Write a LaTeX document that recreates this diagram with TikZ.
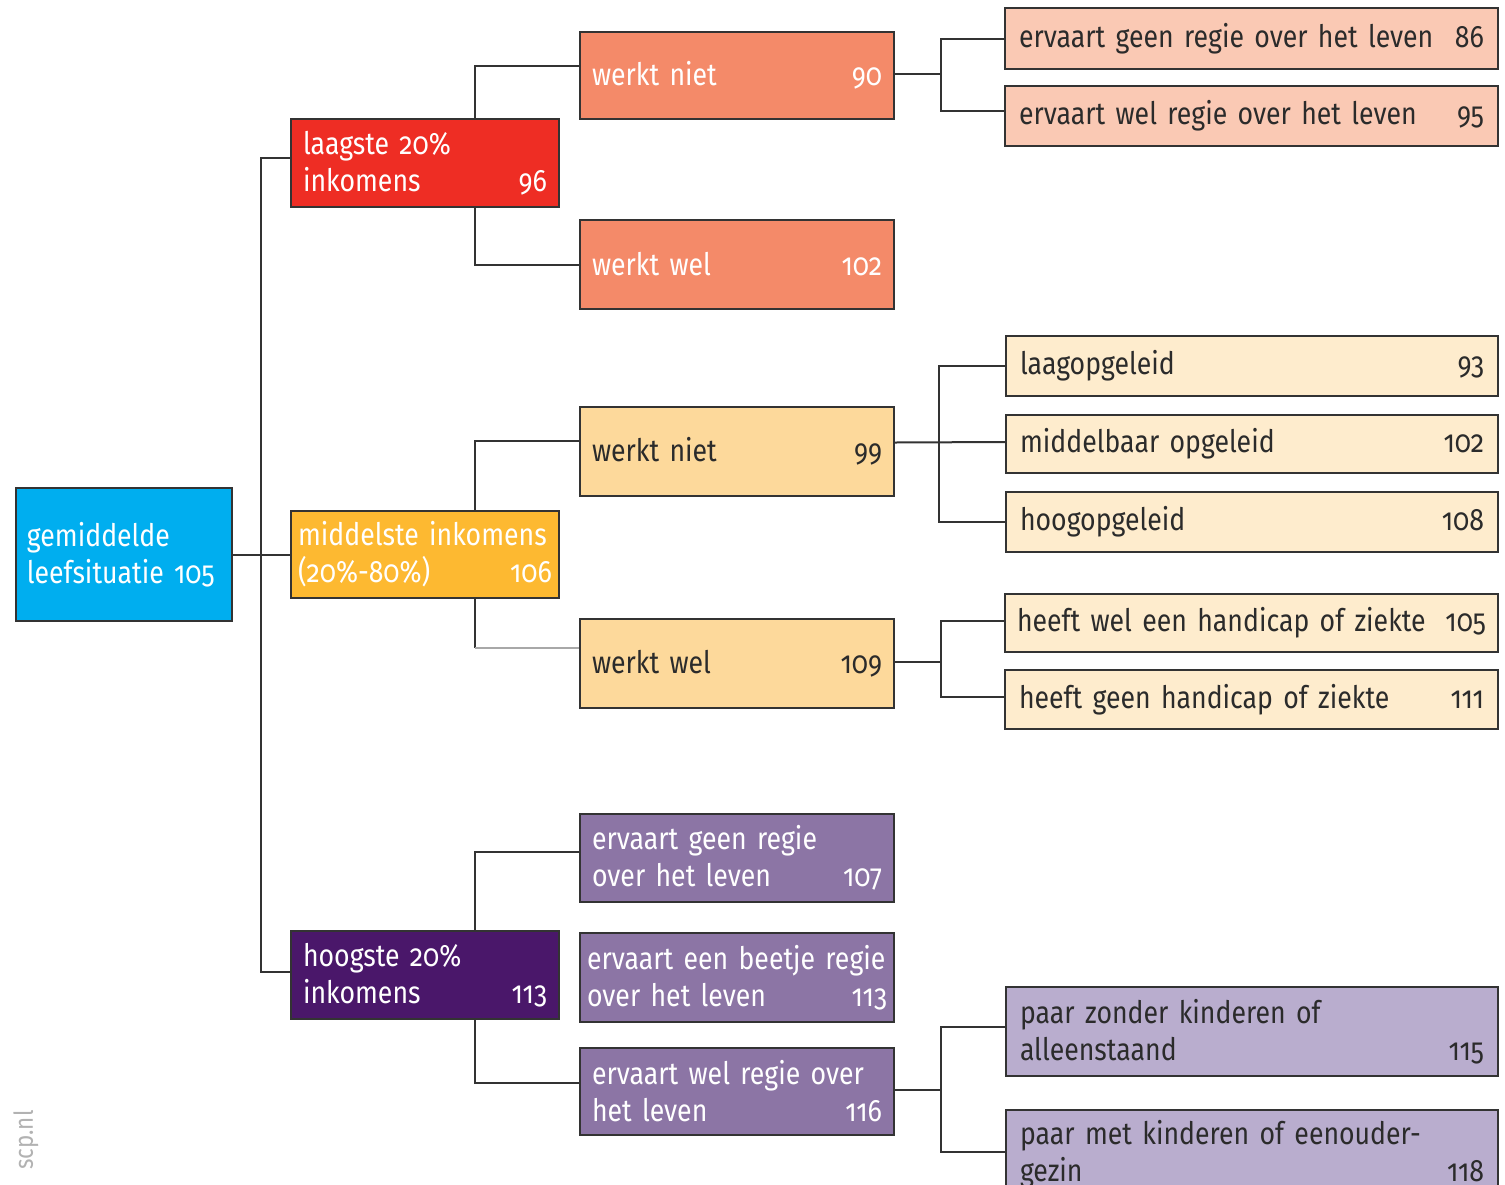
\documentclass[tikz,border=0pt]{standalone}
\usepackage{fontspec}
\setmainfont{Fira Sans}[Numbers=OldStyle, FakeStretch=0.86]
\usetikzlibrary{calc}
\definecolor{lc}{HTML}{333333}
\definecolor{cCyan}{HTML}{00AEEF}
\definecolor{cRed}{HTML}{EE2D24}
\definecolor{cOrange}{HTML}{FDB931}
\definecolor{cDPurple}{HTML}{4A176A}
\definecolor{cSalmon}{HTML}{F48A69}
\definecolor{cLSalmon}{HTML}{FAC9B4}
\definecolor{cLOrange}{HTML}{FDD99B}
\definecolor{cPale}{HTML}{FEECCD}
\definecolor{cPurple}{HTML}{8C75A5}
\definecolor{cLav}{HTML}{B9ADCE}
\definecolor{cDark}{HTML}{2B2B2B}
\definecolor{cGreyLine}{HTML}{A8A8A8}
\begin{document}
\begin{tikzpicture}[x=1pt,y=-1pt,
  bx/.style={draw=lc, line width=2pt, anchor=north west, inner sep=0pt, align=left,
    font=\fontsize{31}{37}\selectfont},
  wt/.style={text=white},
  dk/.style={text=cDark},
  conn/.style={draw=lc, line width=2pt}]
\useasboundingbox (0,0) rectangle (1505,1184);
\clip (0,0) rectangle (1505,1184);
\fill[white] (0,0) rectangle (1505,1184);

\coordinate (t1) at (261,0);
\coordinate (t2) at (475,0);
\coordinate (t3) at (941,0);
\coordinate (t3b) at (939,0);

% level 0
\node[bx, wt, fill=cCyan, minimum width=216pt, minimum height=133pt, text width=194pt] (gem) at (15,487) {gemiddelde\\leefsituatie 105};
% level 1
\node[bx, wt, fill=cRed, minimum width=268pt, minimum height=88pt, text width=244pt] (laag) at (290,118) {laagste 20\%\\inkomens\hfill 96};
\node[bx, wt, fill=cOrange, minimum width=268pt, minimum height=87pt, text width=254pt] (mid) at (290,510) {middelste inkomens\\(20\%-80\%)\hfill 106};
\node[bx, wt, fill=cDPurple, minimum width=268pt, minimum height=88pt, text width=244pt] (hoog) at (290,930) {hoogste 20\%\\inkomens\hfill 113};
% level 2
\node[bx, wt, fill=cSalmon, minimum width=314pt, minimum height=87pt, text width=290pt] (wn90) at (579,31) {werkt niet\hfill 90};
\node[bx, wt, fill=cSalmon, minimum width=314pt, minimum height=89pt, text width=290pt] (ww102) at (579,219) {werkt wel\hfill 102};
\node[bx, dk, fill=cLOrange, minimum width=314pt, minimum height=89pt, text width=290pt] (wn99) at (579,406) {werkt niet\hfill 99};
\node[bx, dk, fill=cLOrange, minimum width=314pt, minimum height=89pt, text width=290pt] (ww109) at (579,618) {werkt wel\hfill 109};
\node[bx, wt, fill=cPurple, minimum width=314pt, minimum height=88pt, text width=290pt] (p107) at (579,813) {ervaart geen regie\\over het leven\hfill 107};
\node[bx, wt, fill=cPurple, minimum width=314pt, minimum height=89pt, text width=300pt] (p113) at (579,932) {ervaart een beetje regie\\over het leven\hfill 113};
\node[bx, wt, fill=cPurple, minimum width=314pt, minimum height=87pt, text width=290pt] (p116) at (579,1047) {ervaart wel regie over\\het leven\hfill 116};
% level 3
\node[bx, dk, fill=cLSalmon, minimum width=493pt, minimum height=61pt, text width=465pt] (e86) at (1004,7) {ervaart geen regie over het leven\hfill 86};
\node[bx, dk, fill=cLSalmon, minimum width=493pt, minimum height=60pt, text width=465pt] (e95) at (1004,85) {ervaart wel regie over het leven\hfill 95};
\node[bx, dk, fill=cPale, minimum width=492pt, minimum height=60pt, text width=464pt] (lo93) at (1005,335) {laagopgeleid\hfill 93};
\node[bx, dk, fill=cPale, minimum width=492pt, minimum height=58pt, text width=464pt] (mo102) at (1005,414) {middelbaar opgeleid\hfill 102};
\node[bx, dk, fill=cPale, minimum width=492pt, minimum height=60pt, text width=464pt] (ho108) at (1005,491) {hoogopgeleid\hfill 108};
\node[bx, dk, fill=cPale, minimum width=493pt, minimum height=58pt, text width=469pt] (h105) at (1004,593) {heeft wel een handicap of ziekte\hfill 105};
\node[bx, dk, fill=cPale, minimum width=493pt, minimum height=59pt, text width=465pt] (h111) at (1004,669) {heeft geen handicap of ziekte\hfill 111};
\node[bx, dk, fill=cLav, minimum width=492pt, minimum height=89pt, text width=464pt] (pz115) at (1005,986) {paar zonder kinderen of\\alleenstaand\hfill 115};
\node[bx, dk, fill=cLav, minimum width=492pt, minimum height=89pt, text width=464pt] (pm118) at (1005,1109) {paar met kinderen of eenouder-\\gezin\hfill 118};

\node[rotate=90, text=gray!60, font=\fontsize{26}{30}\selectfont] (scp) at (26,1140) {scp.nl};

% level 0 -> 1
\draw[conn] (gem.east) -- (mid.west);
\draw[conn] ([yshift=5pt]laag.west) -- ([yshift=5pt]laag.west -| t1) -- ([yshift=3pt]hoog.west -| t1) -- ([yshift=3pt]hoog.west);
% level 1 -> 2
\draw[conn] (laag.north -| t2) |- ([yshift=10pt]wn90.west);
\draw[conn] (laag.south -| t2) |- (ww102.west);
\draw[conn] (mid.north -| t2) |- ([yshift=11pt]wn99.west);
\draw[conn] (mid.south -| t2) -- ([yshift=16pt]ww109.west -| t2);
\draw[draw=cGreyLine, line width=2pt] ([yshift=16pt]ww109.west -| t2) -- ([yshift=16pt]ww109.west);
\draw[conn] (hoog.north -| t2) |- ([yshift=6pt]p107.west);
\draw[conn] (hoog.south -| t2) |- ([yshift=9pt]p116.west);
% level 2 -> 3
\draw[conn] ([yshift=2pt]wn90.east) -- ([yshift=2pt]wn90.east -| t3);
\draw[conn] (e86.west) -- (e86.west -| t3) -- ([yshift=5pt]e95.west -| t3) -- ([yshift=5pt]e95.west);
\draw[conn] ([yshift=9pt]wn99.east) -- ([yshift=2pt]mo102.west);
\draw[conn] (lo93.west) -- (lo93.west -| t3b) -- (ho108.west -| t3b) -- (ho108.west);
\draw[conn] ([yshift=2pt]ww109.east) -- ([yshift=2pt]ww109.east -| t3);
\draw[conn] ([yshift=2pt]h105.west) -- ([yshift=2pt]h105.west -| t3) -- ([yshift=3pt]h111.west -| t3) -- ([yshift=3pt]h111.west);
\draw[conn] ([yshift=2pt]p116.east) -- ([yshift=2pt]p116.east -| t3);
\draw[conn] ([yshift=5pt]pz115.west) -- ([yshift=5pt]pz115.west -| t3) -- ([yshift=3pt]pm118.west -| t3) -- ([yshift=3pt]pm118.west);
\end{tikzpicture}
\end{document}
